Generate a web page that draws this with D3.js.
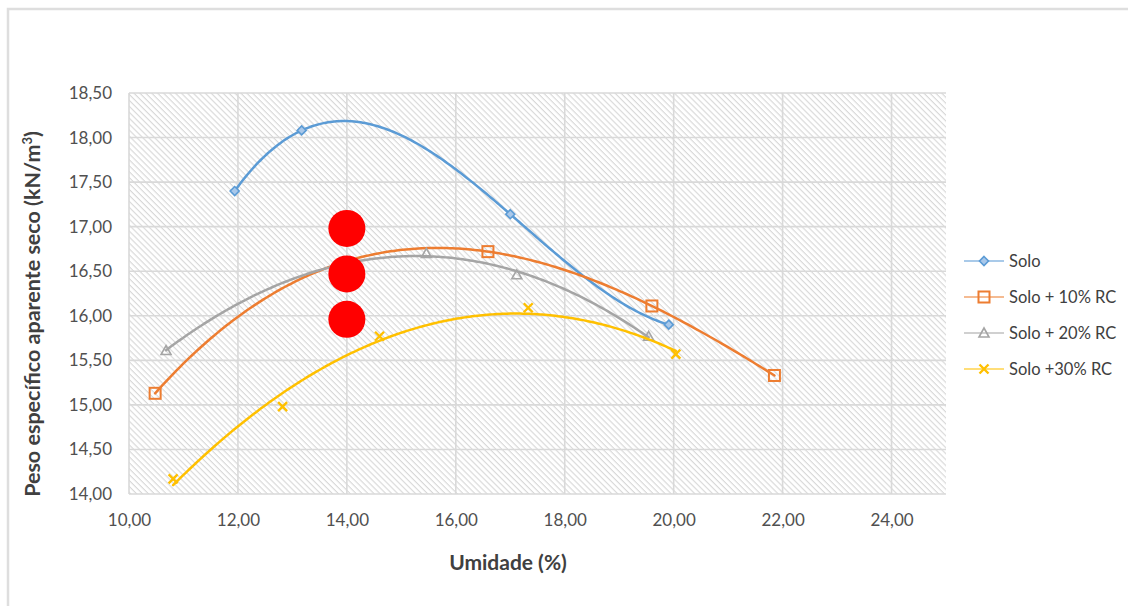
<!DOCTYPE html>
<html>
<head>
<meta charset="utf-8">
<script src="https://cdn.jsdelivr.net/npm/d3@7"></script>
<style>
  html, body { margin: 0; padding: 0; background: #fff; }
  svg { display: block; }
  text { font-family: Lato, "Open Sans", sans-serif; }
</style>
</head>
<body>
<svg id="chart" width="1128" height="606"></svg>
<script>
// Axis ticks
const xTicks = [10, 12, 14, 16, 18, 20, 22, 24];
const yTicks = [14.0, 14.5, 15.0, 15.5, 16.0, 16.5, 17.0, 17.5, 18.0, 18.5];

// Compaction tests: moisture (%) and dry unit weight (kN/m³)
const seriesNames = ["Solo", "Solo + 10% RC", "Solo + 20% RC", "Solo +30% RC"];
const soloX  = [11.94, 13.17, 17.00, 19.91];
const soloY  = [17.40, 18.08, 17.14, 15.90];
const rc10X  = [10.48, 16.59, 19.60, 21.85];
const rc10Y  = [15.13, 16.72, 16.11, 15.33];
const rc20X  = [10.68, 15.46, 17.12, 19.54];
const rc20Y  = [15.61, 16.70, 16.46, 15.77];
const rc30X  = [10.81, 12.82, 14.60, 17.33, 20.04];
const rc30Y  = [14.17, 14.98, 15.77, 16.09, 15.57];

// Highlighted points at 14 % moisture
const markX = [14.0, 14.0, 14.0];
const markY = [16.98, 16.47, 15.96];

const colors  = ["#5b9bd5", "#ed7d31", "#a5a5a5", "#ffc000"];
const shapes  = ["diamond", "square", "triangle", "cross"];
const orders  = [3, 3, 2, 2];   // polynomial trendline order per series

const svg = d3.select("#chart");
const W = 1128, H = 606;
const plot = { left: 129, right: 946, top: 93, bottom: 494 };

const x = d3.scaleLinear().domain([10, 25]).range([plot.left, plot.right]);
const y = d3.scaleLinear().domain([14, 18.5]).range([plot.bottom, plot.top]);
const fmt = v => d3.format(".2f")(v).replace(".", ",");

// chart frame
svg.append("rect").attr("x", 8).attr("y", 9).attr("width", W + 20).attr("height", H + 20)
  .attr("fill", "#fff").attr("stroke", "#dedede").attr("stroke-width", 2.5);

// diagonal hatch fill for the plot area
const defs = svg.append("defs");
const pat = defs.append("pattern").attr("id", "hatch")
  .attr("patternUnits", "userSpaceOnUse").attr("width", 4.2).attr("height", 4.2)
  .attr("patternTransform", "rotate(45)");
pat.append("rect").attr("width", 4.2).attr("height", 4.2).attr("fill", "#fff");
pat.append("line").attr("x1", 0).attr("y1", 0.6).attr("x2", 4.2).attr("y2", 0.6)
  .attr("stroke", "#d3d3d3").attr("stroke-width", 1);

svg.append("rect")
  .attr("x", plot.left).attr("y", plot.top)
  .attr("width", plot.right - plot.left).attr("height", plot.bottom - plot.top)
  .attr("fill", "url(#hatch)");

// gridlines
const grid = svg.append("g");
grid.selectAll("line.h").data(yTicks).join("line")
  .attr("x1", plot.left).attr("x2", plot.right)
  .attr("y1", d => y(d)).attr("y2", d => y(d))
  .attr("stroke", "#d9d9d9").attr("stroke-width", 1.6);
grid.selectAll("line.v").data(xTicks).join("line")
  .attr("y1", plot.top).attr("y2", plot.bottom)
  .attr("x1", d => x(d)).attr("x2", d => x(d))
  .attr("stroke", "#d9d9d9").attr("stroke-width", 1.6);

// axes
const xAxis = svg.append("g").attr("transform", `translate(0,${plot.bottom})`)
  .call(d3.axisBottom(x).tickValues(xTicks).tickFormat(fmt).tickSize(0).tickPadding(20));
const yAxis = svg.append("g").attr("transform", `translate(${plot.left},0)`)
  .call(d3.axisLeft(y).tickValues(yTicks).tickFormat(fmt).tickSize(0).tickPadding(17));
[xAxis, yAxis].forEach(a => {
  a.select(".domain").remove();
  a.selectAll("text").attr("fill", "#505050").style("font-size", "17px")
    .style("font-family", "Lato, sans-serif");
});

// axis titles
svg.append("text").attr("x", 508).attr("y", 570).attr("text-anchor", "middle")
  .attr("fill", "#404040").style("font-size", "21px").style("font-weight", "bold")
  .text("Umidade (%)");
const yt = svg.append("text").attr("transform", "translate(40,314) rotate(-90)")
  .attr("text-anchor", "middle").attr("fill", "#404040")
  .style("font-size", "21.5px").style("font-weight", "bold");
yt.append("tspan").text("Peso específico aparente seco (kN/m");
yt.append("tspan").attr("baseline-shift", "super").style("font-size", "13px").text("3");
yt.append("tspan").text(")");

// least-squares polynomial fit (x centred for conditioning)
function polyfit(xs, ys, order) {
  const m = d3.mean(xs);
  const n = order + 1;
  const A = Array.from({ length: n }, () => new Array(n + 1).fill(0));
  for (let i = 0; i < xs.length; i++) {
    const u = xs[i] - m;
    for (let r = 0; r < n; r++) {
      for (let c = 0; c < n; c++) A[r][c] += Math.pow(u, r + c);
      A[r][n] += ys[i] * Math.pow(u, r);
    }
  }
  for (let p = 0; p < n; p++) {
    let best = p;
    for (let r = p + 1; r < n; r++) if (Math.abs(A[r][p]) > Math.abs(A[best][p])) best = r;
    [A[p], A[best]] = [A[best], A[p]];
    for (let r = 0; r < n; r++) {
      if (r === p) continue;
      const f = A[r][p] / A[p][p];
      for (let c = p; c <= n; c++) A[r][c] -= f * A[p][c];
    }
  }
  const coef = A.map((row, i) => row[n] / row[i]);
  return v => coef.reduce((s, c, i) => s + c * Math.pow(v - m, i), 0);
}

const series = [
  { xs: soloX, ys: soloY },
  { xs: rc10X, ys: rc10Y },
  { xs: rc20X, ys: rc20Y },
  { xs: rc30X, ys: rc30Y }
];

const line = d3.line().x(d => x(d[0])).y(d => y(d[1]));

function drawMarker(g, shape, color, cx, cy, s) {
  if (shape === "diamond") {
    g.append("path").attr("d", `M${cx},${cy - s}L${cx + s},${cy}L${cx},${cy + s}L${cx - s},${cy}Z`)
      .attr("fill", "#a9c8ea").attr("stroke", color).attr("stroke-width", 1.6);
  } else if (shape === "square") {
    g.append("rect").attr("x", cx - s).attr("y", cy - s).attr("width", 2 * s).attr("height", 2 * s)
      .attr("fill", "none").attr("stroke", color).attr("stroke-width", 2);
  } else if (shape === "triangle") {
    g.append("path").attr("d", `M${cx},${cy - s}L${cx + s},${cy + s * 0.8}L${cx - s},${cy + s * 0.8}Z`)
      .attr("fill", "none").attr("stroke", color).attr("stroke-width", 1.6);
  } else {
    g.append("path").attr("d", `M${cx - s},${cy - s}L${cx + s},${cy + s}M${cx + s},${cy - s}L${cx - s},${cy + s}`)
      .attr("fill", "none").attr("stroke", color).attr("stroke-width", 2.4);
  }
}
const markerSize = [4.5, 5.5, 5, 4.5];

series.forEach((s, i) => {
  const f = polyfit(s.xs, s.ys, orders[i]);
  const lo = d3.min(s.xs), hi = d3.max(s.xs);
  const pts = d3.range(0, 201).map(k => {
    const v = lo + (hi - lo) * k / 200;
    return [v, f(v)];
  });
  const g = svg.append("g");
  g.append("path").datum(pts).attr("d", line)
    .attr("fill", "none").attr("stroke", colors[i]).attr("stroke-width", 2.5)
    .attr("stroke-linecap", "round");
  s.xs.forEach((v, j) => drawMarker(g, shapes[i], colors[i], x(v), y(s.ys[j]), markerSize[i]));
});

// highlighted points
svg.append("g").selectAll("circle").data(markX.map((v, i) => [v, markY[i]])).join("circle")
  .attr("cx", d => x(d[0])).attr("cy", d => y(d[1])).attr("r", 18.5)
  .attr("fill", "#ff0000");

// legend
const legend = svg.append("g");
seriesNames.forEach((name, i) => {
  const ly = 261 + i * 36;
  legend.append("line").attr("x1", 964).attr("x2", 1004).attr("y1", ly).attr("y2", ly)
    .attr("stroke", colors[i]).attr("stroke-width", 1.5).attr("stroke-opacity", 0.7);
  drawMarker(legend, shapes[i], colors[i], 984, ly, markerSize[i]);
  legend.append("text").attr("x", 1009).attr("y", ly + 6).attr("fill", "#404040")
    .style("font-size", "16.5px").text(name);
});
</script>
</body>
</html>
